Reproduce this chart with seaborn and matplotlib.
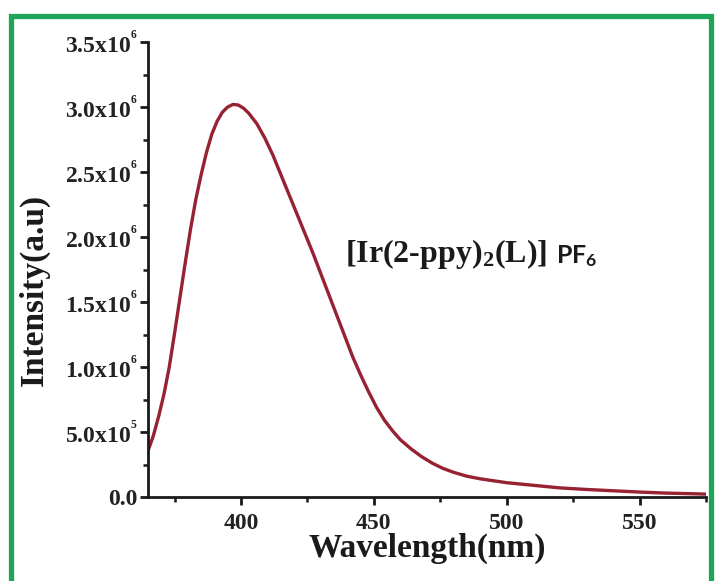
import matplotlib
matplotlib.use("Agg")
import matplotlib.pyplot as plt
from matplotlib.patches import Rectangle
import seaborn as sns
import pandas as pd

# ---- data ----
wavelength = [365, 367, 369, 371, 373, 375, 377, 379, 381, 383, 385, 387, 389, 391,
              393, 395, 397, 399, 401, 403, 406, 409, 412, 415, 418, 421, 424, 427,
              430, 433, 436, 439, 442, 445, 448, 451, 454, 457, 460, 464, 468, 472,
              476, 480, 485, 490, 495, 500, 505, 510, 515, 520, 530, 540, 550, 560,
              570, 575]
intensity_e6 = [0.355, 0.47, 0.62, 0.79, 1.00, 1.26, 1.53, 1.80, 2.06, 2.29, 2.48, 2.65,
                2.79, 2.89, 2.96, 3.00, 3.02, 3.015, 2.99, 2.95, 2.87, 2.76, 2.63, 2.48,
                2.33, 2.18, 2.03, 1.88, 1.72, 1.56, 1.40, 1.24, 1.08, 0.94, 0.81, 0.69,
                0.59, 0.51, 0.44, 0.37, 0.31, 0.26, 0.22, 0.19, 0.16, 0.14, 0.125, 0.11,
                0.10, 0.09, 0.08, 0.07, 0.058, 0.048, 0.038, 0.030, 0.025, 0.022]
intensity = [v * 1e6 for v in intensity_e6]

xticks = [400, 450, 500, 550]
xtick_labels = ["400", "450", "500", "550"]
yticks = [0, 0.5e6, 1.0e6, 1.5e6, 2.0e6, 2.5e6, 3.0e6, 3.5e6]
ytick_labels = ["0.0", "5.0x10$^{{}^5}$", "1.0x10$^{{}^6}$", "1.5x10$^{{}^6}$",
                "2.0x10$^{{}^6}$", "2.5x10$^{{}^6}$", "3.0x10$^{{}^6}$", "3.5x10$^{{}^6}$"]
x_label = "Wavelength(nm)"
y_label = "Intensity(a.u)"
compound = "[Ir(2-ppy)$_2$(L)]"
counter_ion = "PF$_\\mathsf{6}$"

df = pd.DataFrame({"wavelength": wavelength, "intensity": intensity})

# ---- style ----
sns.set_theme(style="ticks")
plt.rcParams["font.family"] = ["Liberation Serif", "DejaVu Serif"]
plt.rcParams["font.weight"] = "bold"
plt.rcParams["mathtext.fontset"] = "custom"
plt.rcParams["mathtext.rm"] = "Liberation Serif:bold"
plt.rcParams["mathtext.it"] = "Liberation Serif:bold:italic"
plt.rcParams["mathtext.bf"] = "Liberation Serif:bold"
plt.rcParams["mathtext.sf"] = "Lato:bold"
plt.rcParams["mathtext.default"] = "rm"

W, H = 715, 581
fig = plt.figure(figsize=(W / 100, H / 100), dpi=100)
fig.patch.set_facecolor("white")
ax = fig.add_axes([148 / W, 84 / H, 558 / W, 455 / H])
ax.set_facecolor("white")

sns.lineplot(data=df, x="wavelength", y="intensity", ax=ax,
             color="#962232", linewidth=2.4)

ax.set_xlim(365, 575)
ax.set_ylim(0, 3.5e6)

ax.set_xticks(xticks)
ax.set_xticklabels(xtick_labels)
ax.set_xticks([375, 425, 475, 525, 575], minor=True)
ax.set_yticks(yticks)
ax.set_yticklabels(ytick_labels)
ax.set_yticks([0.25e6 + 0.5e6 * i for i in range(7)], minor=True)

for s in ["top", "right"]:
    ax.spines[s].set_visible(False)
for s in ["left", "bottom"]:
    ax.spines[s].set_linewidth(2.0)
    ax.spines[s].set_color("#1a1a1a")

ax.tick_params(axis="both", which="major", direction="out", length=5.5, width=2.0,
               color="#1a1a1a", labelsize=17, labelcolor="#222222")
ax.tick_params(axis="both", which="minor", direction="out", length=3.5, width=1.8,
               color="#1a1a1a")
ax.tick_params(axis="x", which="major", pad=6)
ax.tick_params(axis="y", which="major", pad=2)
for lab in ax.get_xticklabels() + ax.get_yticklabels():
    lab.set_fontweight("bold")

ax.set_xlabel(x_label, fontsize=24, fontweight="bold", color="#1a1a1a")
ax.set_ylabel(y_label, fontsize=24, fontweight="bold", color="#1a1a1a")
ax.xaxis.set_label_coords(0.5, -0.078)
ax.yaxis.set_label_coords(-0.176, 0.455)

fig.text(345 / W, (H - 262) / H, compound, fontsize=23, fontweight="bold",
         color="#1a1a1a", va="baseline", ha="left")
fig.text(556 / W, (H - 263) / H, counter_ion, fontsize=18, fontweight="bold",
         family=["Lato", "DejaVu Sans"], color="#1a1a1a", va="baseline", ha="left")

# green frame around the figure
fig.patches.append(Rectangle((11 / W, -3 / H), 700 / W, 568 / H,
                             transform=fig.transFigure, fill=False,
                             edgecolor="#1fa558", linewidth=3.8, clip_on=False))

fig.savefig("out.png", dpi=100, facecolor="white")
